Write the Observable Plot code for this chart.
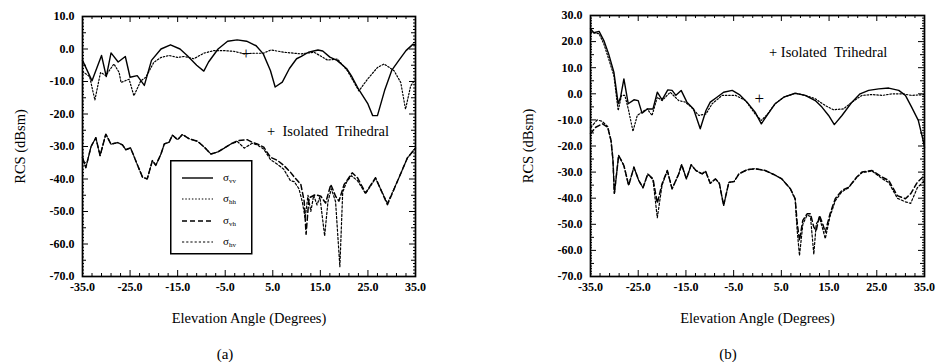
<!DOCTYPE html>
<html><head><meta charset="utf-8">
<script src="https://cdn.jsdelivr.net/npm/d3@7"></script>
<script src="https://cdn.jsdelivr.net/npm/@observablehq/plot@0.6"></script>
<style>
body{margin:0;background:#fff;}
#fig{position:relative;width:938px;height:362px;font-family:"Liberation Serif","Times New Roman","DejaVu Serif",serif;color:#000;overflow:hidden;}
.panel{position:absolute;top:0;width:469px;height:340px;}
.cap{position:absolute;top:346px;font-size:15px;line-height:16px;transform:translateX(-50%);}
.key{position:absolute;font-size:14.5px;line-height:16px;white-space:nowrap;}
.leg{position:absolute;}
.panel svg text{font-family:"Liberation Serif","Times New Roman","DejaVu Serif",serif;}
</style></head><body>
<div id="fig">
 <div class="panel" id="pa" style="left:0"></div>
 <div class="panel" id="pb" style="left:469px"></div>
 <div class="cap" style="left:225px">(a)</div>
 <div class="cap" style="left:728px">(b)</div>
 <div class="key" style="left:267px;top:123px">+&nbsp;&nbsp;Isolated&nbsp;&nbsp;Trihedral</div>
 <div class="key" style="left:769px;top:44px">+&nbsp;Isolated&nbsp;&nbsp;Trihedral</div>
 <svg class="leg" style="left:170px;top:160px" width="83" height="95">
  <rect x="0.75" y="0.75" width="81" height="93" fill="#fff" stroke="#000" stroke-width="1.5"/>
  <line x1="12" x2="43" y1="18" y2="18" stroke="#000" stroke-width="1.4"/>
  <line x1="12" x2="43" y1="39" y2="39" stroke="#000" stroke-width="1.2" stroke-dasharray="1.5,1.8"/>
  <line x1="12" x2="43" y1="61" y2="61" stroke="#000" stroke-width="1.5" stroke-dasharray="5,3"/>
  <line x1="12" x2="43" y1="82" y2="82" stroke="#000" stroke-width="1.2" stroke-dasharray="2.2,2"/>
  <g font-family="Liberation Serif, Times New Roman, DejaVu Serif, serif" font-size="11" fill="#000">
   <text x="53" y="21">σ<tspan font-size="7" dy="2">vv</tspan></text>
   <text x="53" y="42">σ<tspan font-size="7" dy="2">hh</tspan></text>
   <text x="53" y="64">σ<tspan font-size="7" dy="2">vh</tspan></text>
   <text x="53" y="85">σ<tspan font-size="7" dy="2">hv</tspan></text>
  </g>
 </svg>
</div>
<script>
// ---- Panel (a) data: [elevation angle (deg), RCS (dBsm)] ----
const a_vv = [[-35,-3.5],[-33,-9.8],[-31,-2],[-30,-8.5],[-29,-1.2],[-27.5,-4],[-26,-2.3],[-25,-8.7],[-23.5,-8.2],[-22,-11.2],[-20.5,-3.5],[-18.5,0],[-16.5,1.3],[-14.5,0],[-13,-2],[-11,-5],[-9.5,-6.8],[-8.5,-4],[-6.5,0],[-4.5,2.4],[-2.5,2.8],[-0.5,2.4],[1.5,1],[3,-1.5],[4.5,-6.6],[5.5,-11.7],[7,-10.2],[8.5,-6],[10,-3],[11,-2.3],[12.5,-1],[14.5,-0.3],[15.5,-0.6],[17,-2.5],[18.5,-3.5],[20.5,-6],[21.5,-8.2],[23,-12.3],[25,-16.9],[26,-20.5],[27,-20.5],[28.5,-12.8],[30,-6.6],[31.5,-3.5],[33,-0.5],[34.5,1.5],[35,1.2]];
const a_hh = [[-35,-6.9],[-33.5,-8.5],[-32.4,-15.7],[-31.2,-7.2],[-30.1,-8.2],[-28.4,-4.6],[-27.3,-7.2],[-26.9,-10.3],[-25.2,-9.3],[-24.2,-14.4],[-22.75,-9.8],[-21.7,-8.7],[-20,-4.1],[-18.5,-2.6],[-16.8,-2],[-15,-2.6],[-13.6,-2.3],[-11.6,-3],[-9.5,-1.3],[-7.4,-0.5],[-5.3,-0.5],[-3.2,-0.7],[-1,-1.5],[1,-1.3],[3,-1.3],[4.6,-0.3],[7.4,-1],[10.9,-1.5],[13.7,-1],[16.5,-3.4],[18.6,-3.1],[20.7,-6.7],[23.1,-12.9],[24.9,-9.3],[27,-5.7],[28.4,-4.6],[30.5,-6.7],[31.9,-10.3],[32.9,-18.5],[34,-11.3],[35,-9.3]];
const a_vh = [[-35,-33.4],[-34.3,-36.5],[-33.2,-30],[-32.2,-27.3],[-31.3,-32.8],[-30.1,-26.2],[-29,-29.3],[-27.6,-28.8],[-26.6,-29.5],[-25.9,-31],[-24.9,-30.4],[-23.5,-35.5],[-22.4,-39.4],[-21.4,-40],[-20.3,-34.3],[-19.6,-35.8],[-18.5,-32.3],[-17.8,-29.2],[-16.8,-28.7],[-16.1,-26.5],[-15,-27.9],[-14,-26.3],[-12.6,-27.6],[-10.8,-28.4],[-9.4,-30.2],[-8,-32.3],[-6.6,-31.7],[-5.2,-30.5],[-3.8,-29.2],[-2.4,-28.2],[-0.4,-27.9],[0.7,-28.7],[1.7,-29.2],[3.1,-30.2],[4.5,-33.3],[6,-34.3],[7.3,-35.8],[8.7,-37.9],[9.5,-39.4],[10.9,-41.7],[11.6,-46.8],[12,-57],[12.6,-45.8],[14,-44.8],[15.1,-45.3],[16.1,-47.4],[17.2,-41.7],[18.2,-45.3],[18.9,-46.8],[20,-41.7],[21.7,-38.1],[22.8,-39.6],[24.5,-44.3],[26.6,-39.6],[29.1,-47.9],[31.2,-40.7],[33.3,-33.5],[35,-30.5]];
const a_hv = [[-35,-33.4],[-34.3,-36.5],[-33.2,-30],[-32.2,-27.3],[-31.3,-32.8],[-30.1,-26.2],[-29,-29.3],[-27.6,-28.8],[-26.6,-29.5],[-25.9,-31],[-24.9,-30.4],[-23.5,-35.5],[-22.4,-39.4],[-21.4,-40],[-20.3,-34.3],[-19.6,-35.8],[-18.5,-32.3],[-17.8,-29.2],[-16.8,-28.7],[-16.1,-26.5],[-15,-27.9],[-14,-26.3],[-12.6,-27.6],[-10.8,-28.4],[-9.4,-30.2],[-8,-32.3],[-6.6,-31.7],[-5.2,-30.5],[-3.8,-29.2],[-2.4,-28.5],[-1,-30.5],[0.7,-29],[1.7,-29.5],[3.1,-30.8],[4.5,-34],[6,-35.5],[7.3,-37],[8.7,-40.5],[9.5,-40.8],[10.5,-43],[11.2,-47],[11.8,-52],[12.4,-45],[13,-50],[13.6,-45],[14.3,-48],[14.9,-45.5],[15.9,-57.5],[16.6,-47],[17.3,-43],[18.2,-47],[19.1,-67],[19.7,-44],[20.5,-41],[21.5,-39],[22.8,-40.5],[24.5,-44.5],[26.6,-39.8],[29.1,-47.5],[31.2,-40.7],[33.3,-33.5],[35,-30.5]];
const a_tri = [[-0.6,-1.5]];

// ---- Panel (b) data ----
const b_vv = [[-35,24.9],[-34.3,23.4],[-33.2,23.9],[-32.2,20.4],[-31.2,15.3],[-30.1,8.3],[-29.2,-3.8],[-28.7,-1.3],[-28,5.7],[-27.1,-3.8],[-25.9,-2.3],[-25,-2.6],[-24.2,-7.4],[-23.1,-5.8],[-21.9,-5.8],[-21,0.6],[-20,-2.3],[-18.8,1.5],[-17.9,1.3],[-17.1,-0.6],[-16,1.3],[-14.8,-3.2],[-13.4,-5.8],[-12,-13.4],[-10.8,-6.4],[-9.9,-3.2],[-8.5,-1.3],[-7.1,0.6],[-5.3,1.3],[-3.8,-0.3],[-2.2,-3.2],[-0.5,-7],[0.8,-11.5],[2,-8.3],[3.7,-3.8],[5.5,-1.3],[7.9,0.2],[10,-0.6],[12.1,-2.6],[13.5,-5.1],[14.9,-8.3],[16.1,-11.8],[17.7,-8.3],[19.8,-3.2],[21.5,0],[23.3,1.3],[25.4,1.9],[27.5,2.2],[29.6,1.3],[31,-0.6],[32.3,-5.1],[33.7,-10.2],[34.8,-18.5],[35,-20.5]];
const b_hh = [[-35,23.6],[-33.2,23],[-32.2,19.1],[-31.2,13.4],[-30.1,7],[-29.2,-6.4],[-28.5,-0.6],[-27.8,-0.6],[-27,-6.4],[-26.1,-14.4],[-25.2,-8.3],[-24.2,-7],[-23.1,-5.8],[-22.1,-8.3],[-21,-1.3],[-20,-2.6],[-18.3,0.6],[-16.5,-2.6],[-15.1,-3.2],[-13.9,-5.1],[-12.3,-8.3],[-10.8,-7.7],[-9.5,-3.8],[-7.4,-0.6],[-4.6,-0.6],[-2.5,-2.6],[-0.5,-7.7],[0.8,-10.2],[2,-8],[3.7,-3.8],[5.5,-1.3],[7.9,0.2],[10,-0.6],[12.1,-1.9],[14.2,-4.5],[15.9,-6.1],[18,-5.8],[19.8,-3.2],[21.9,-0.6],[24,-0.3],[26.2,-0.6],[28.3,0],[30.3,0],[32.3,-0.6],[35,-0.3]];
const b_vh = [[-35,-15.3],[-33.9,-12.8],[-32.5,-11.5],[-31.4,-12.8],[-30.7,-17.9],[-30.3,-25],[-30,-38.1],[-29.1,-23.6],[-28,-27.5],[-27,-35.1],[-25.9,-28.1],[-24.9,-33.2],[-24,-36],[-23,-30.7],[-21.9,-32.6],[-21,-41.9],[-20,-34.5],[-18.9,-29.4],[-17.9,-36.4],[-16.5,-30.7],[-15.9,-27.1],[-14.9,-32.6],[-13.9,-27.2],[-12.9,-29.4],[-11.6,-30.7],[-10.9,-29.6],[-9.9,-34.3],[-8.8,-32.6],[-8,-34.3],[-7.1,-42.8],[-6,-33.9],[-4.9,-33.6],[-3.9,-30.7],[-2.2,-29.1],[-0.5,-28.7],[1.6,-29.4],[3.4,-30.9],[5.1,-32.6],[6.9,-36.4],[7.9,-40.2],[8.3,-49.2],[8.8,-56.2],[9.5,-48.5],[10.4,-46],[11.1,-46],[11.8,-51.1],[12.3,-52.4],[13,-46.6],[13.7,-50.1],[14.2,-53],[15.2,-46],[16.3,-40.2],[17.7,-37],[19.1,-35.8],[20.8,-31.9],[21.9,-30],[24,-29.4],[26.1,-31.9],[27.5,-33.2],[29.3,-39],[31,-40.2],[32.1,-38.3],[33.5,-33.9],[35,-31.3]];
const b_hv = [[-35,-13],[-33.6,-10],[-32.6,-10.5],[-31.4,-12.5],[-30.7,-18],[-30.3,-25.5],[-30,-38.5],[-29.1,-23.6],[-28,-27.5],[-27,-35.1],[-25.9,-28.1],[-24.9,-33.2],[-24,-36],[-23,-30.7],[-21.9,-33],[-21,-47.5],[-20,-35],[-18.9,-29.4],[-17.9,-36.4],[-16.5,-30.7],[-15.9,-27.1],[-14.9,-32.6],[-13.9,-27.2],[-12.9,-29.4],[-11.6,-30.7],[-10.9,-29.6],[-9.9,-34.3],[-8.8,-32.6],[-8,-34.3],[-7.1,-42.8],[-6,-33.9],[-4.9,-33.6],[-3.9,-30.7],[-2.2,-29.1],[-0.5,-28.7],[1.6,-29.4],[3.4,-30.9],[5.1,-32.6],[6.9,-36.4],[7.9,-40.5],[8.3,-52],[8.8,-62],[9.5,-50],[10.4,-46.5],[11.1,-47],[11.8,-61.5],[12.3,-50],[13,-47.5],[13.7,-52],[14.2,-55.5],[15.2,-47],[16.3,-41],[17.7,-37.5],[19.1,-36],[20.8,-32],[21.9,-30.2],[24,-29.6],[26.1,-32.5],[27.5,-34],[29.3,-40],[31,-41.4],[32.1,-42],[33.5,-36],[35,-33.2]];
const b_tri = [[0.4,-1.7]];

// ---- Axis ticks ----
const xTickLabels = [-35, -25, -15, -5, 5, 15, 25, 35];
const yTickLabelsA = [10, 0, -10, -20, -30, -40, -50, -60, -70];
const yTickLabelsB = [30, 20, 10, 0, -10, -20, -30, -40, -50, -60, -70];

const fmt = d => d.toFixed(1);
const SERIF = "Liberation Serif, Times New Roman, DejaVu Serif, serif";

function panel({vv, hh, vh, hv, tri, ymin, ymax, yLabels, ml, mr, mt, mb}) {
  const W = 469, H = 340;
  const pxX = (W - ml - mr) / 70, pxY = (H - mt - mb) / (ymax - ymin);
  const xt = d3.range(-35, 35.001, 2);
  const yt = d3.range(ymin, ymax + 0.001, 1);
  const lenX = v => (Math.abs((v + 35) % 10) < 1e-6 ? 6 : 3);
  const lenY = v => (v % 10 === 0 ? 6 : v % 5 === 0 ? 4 : 2);
  const line = (arr, o) => Plot.line(arr, {x: d => d[0], y: d => d[1], stroke: "#000", ...o});
  return Plot.plot({
    width: W, height: H, marginLeft: ml, marginRight: mr, marginTop: mt, marginBottom: mb,
    x: {domain: [-35, 35]}, y: {domain: [ymin, ymax]},
    style: {fontFamily: SERIF, fontSize: "12px", fontWeight: "bold", color: "#000", background: "transparent", overflow: "visible"},
    marks: [
      Plot.ruleX(xt, {x: d => d, y1: ymin, y2: d => ymin + lenX(d) / pxY, stroke: "#000"}),
      Plot.ruleX(xt, {x: d => d, y1: ymax, y2: d => ymax - lenX(d) / pxY, stroke: "#000"}),
      Plot.ruleY(yt, {y: d => d, x1: -35, x2: d => -35 + lenY(d) / pxX, stroke: "#000"}),
      Plot.ruleY(yt, {y: d => d, x1: 35, x2: d => 35 - lenY(d) / pxX, stroke: "#000"}),
      line(hv, {strokeWidth: 1.2, strokeDasharray: "2.2,2"}),
      line(vh, {strokeWidth: 1.5, strokeDasharray: "5,3"}),
      line(hh, {strokeWidth: 1.2, strokeDasharray: "1.5,1.8"}),
      line(vv, {strokeWidth: 1.4}),
      Plot.frame({stroke: "#000", strokeWidth: 1.7}),
      Plot.axisX({ticks: xTickLabels, tickFormat: fmt, tickSize: 0, tickPadding: 6, label: null, fill: "#000", fontFamily: SERIF}),
      Plot.axisY({ticks: yLabels, tickFormat: fmt, tickSize: 0, tickPadding: 8, label: null, fill: "#000", fontFamily: SERIF}),
      Plot.text(["Elevation Angle (Degrees)"], {frameAnchor: "bottom", dy: 46, fontSize: 14.5, fontWeight: "normal", fill: "#000", fontFamily: SERIF}),
      Plot.text(["RCS (dBsm)"], {frameAnchor: "left", dx: -62, rotate: -90, textAnchor: "middle", fontSize: 14.5, fontWeight: "normal", fill: "#000", fontFamily: SERIF}),
      Plot.text(tri, {x: d => d[0], y: d => d[1], text: () => "+", fontSize: 17, fontWeight: "normal", fill: "#000", fontFamily: SERIF})
    ]
  });
}

document.getElementById("pa").append(panel({vv: a_vv, hh: a_hh, vh: a_vh, hv: a_hv, tri: a_tri, ymin: -70, ymax: 10, yLabels: yTickLabelsA, ml: 82, mr: 54, mt: 16, mb: 64}));
document.getElementById("pb").append(panel({vv: b_vv, hh: b_hh, vh: b_vh, hv: b_hv, tri: b_tri, ymin: -70, ymax: 30, yLabels: yTickLabelsB, ml: 121, mr: 14, mt: 15, mb: 64}));
</script>
</body></html>
